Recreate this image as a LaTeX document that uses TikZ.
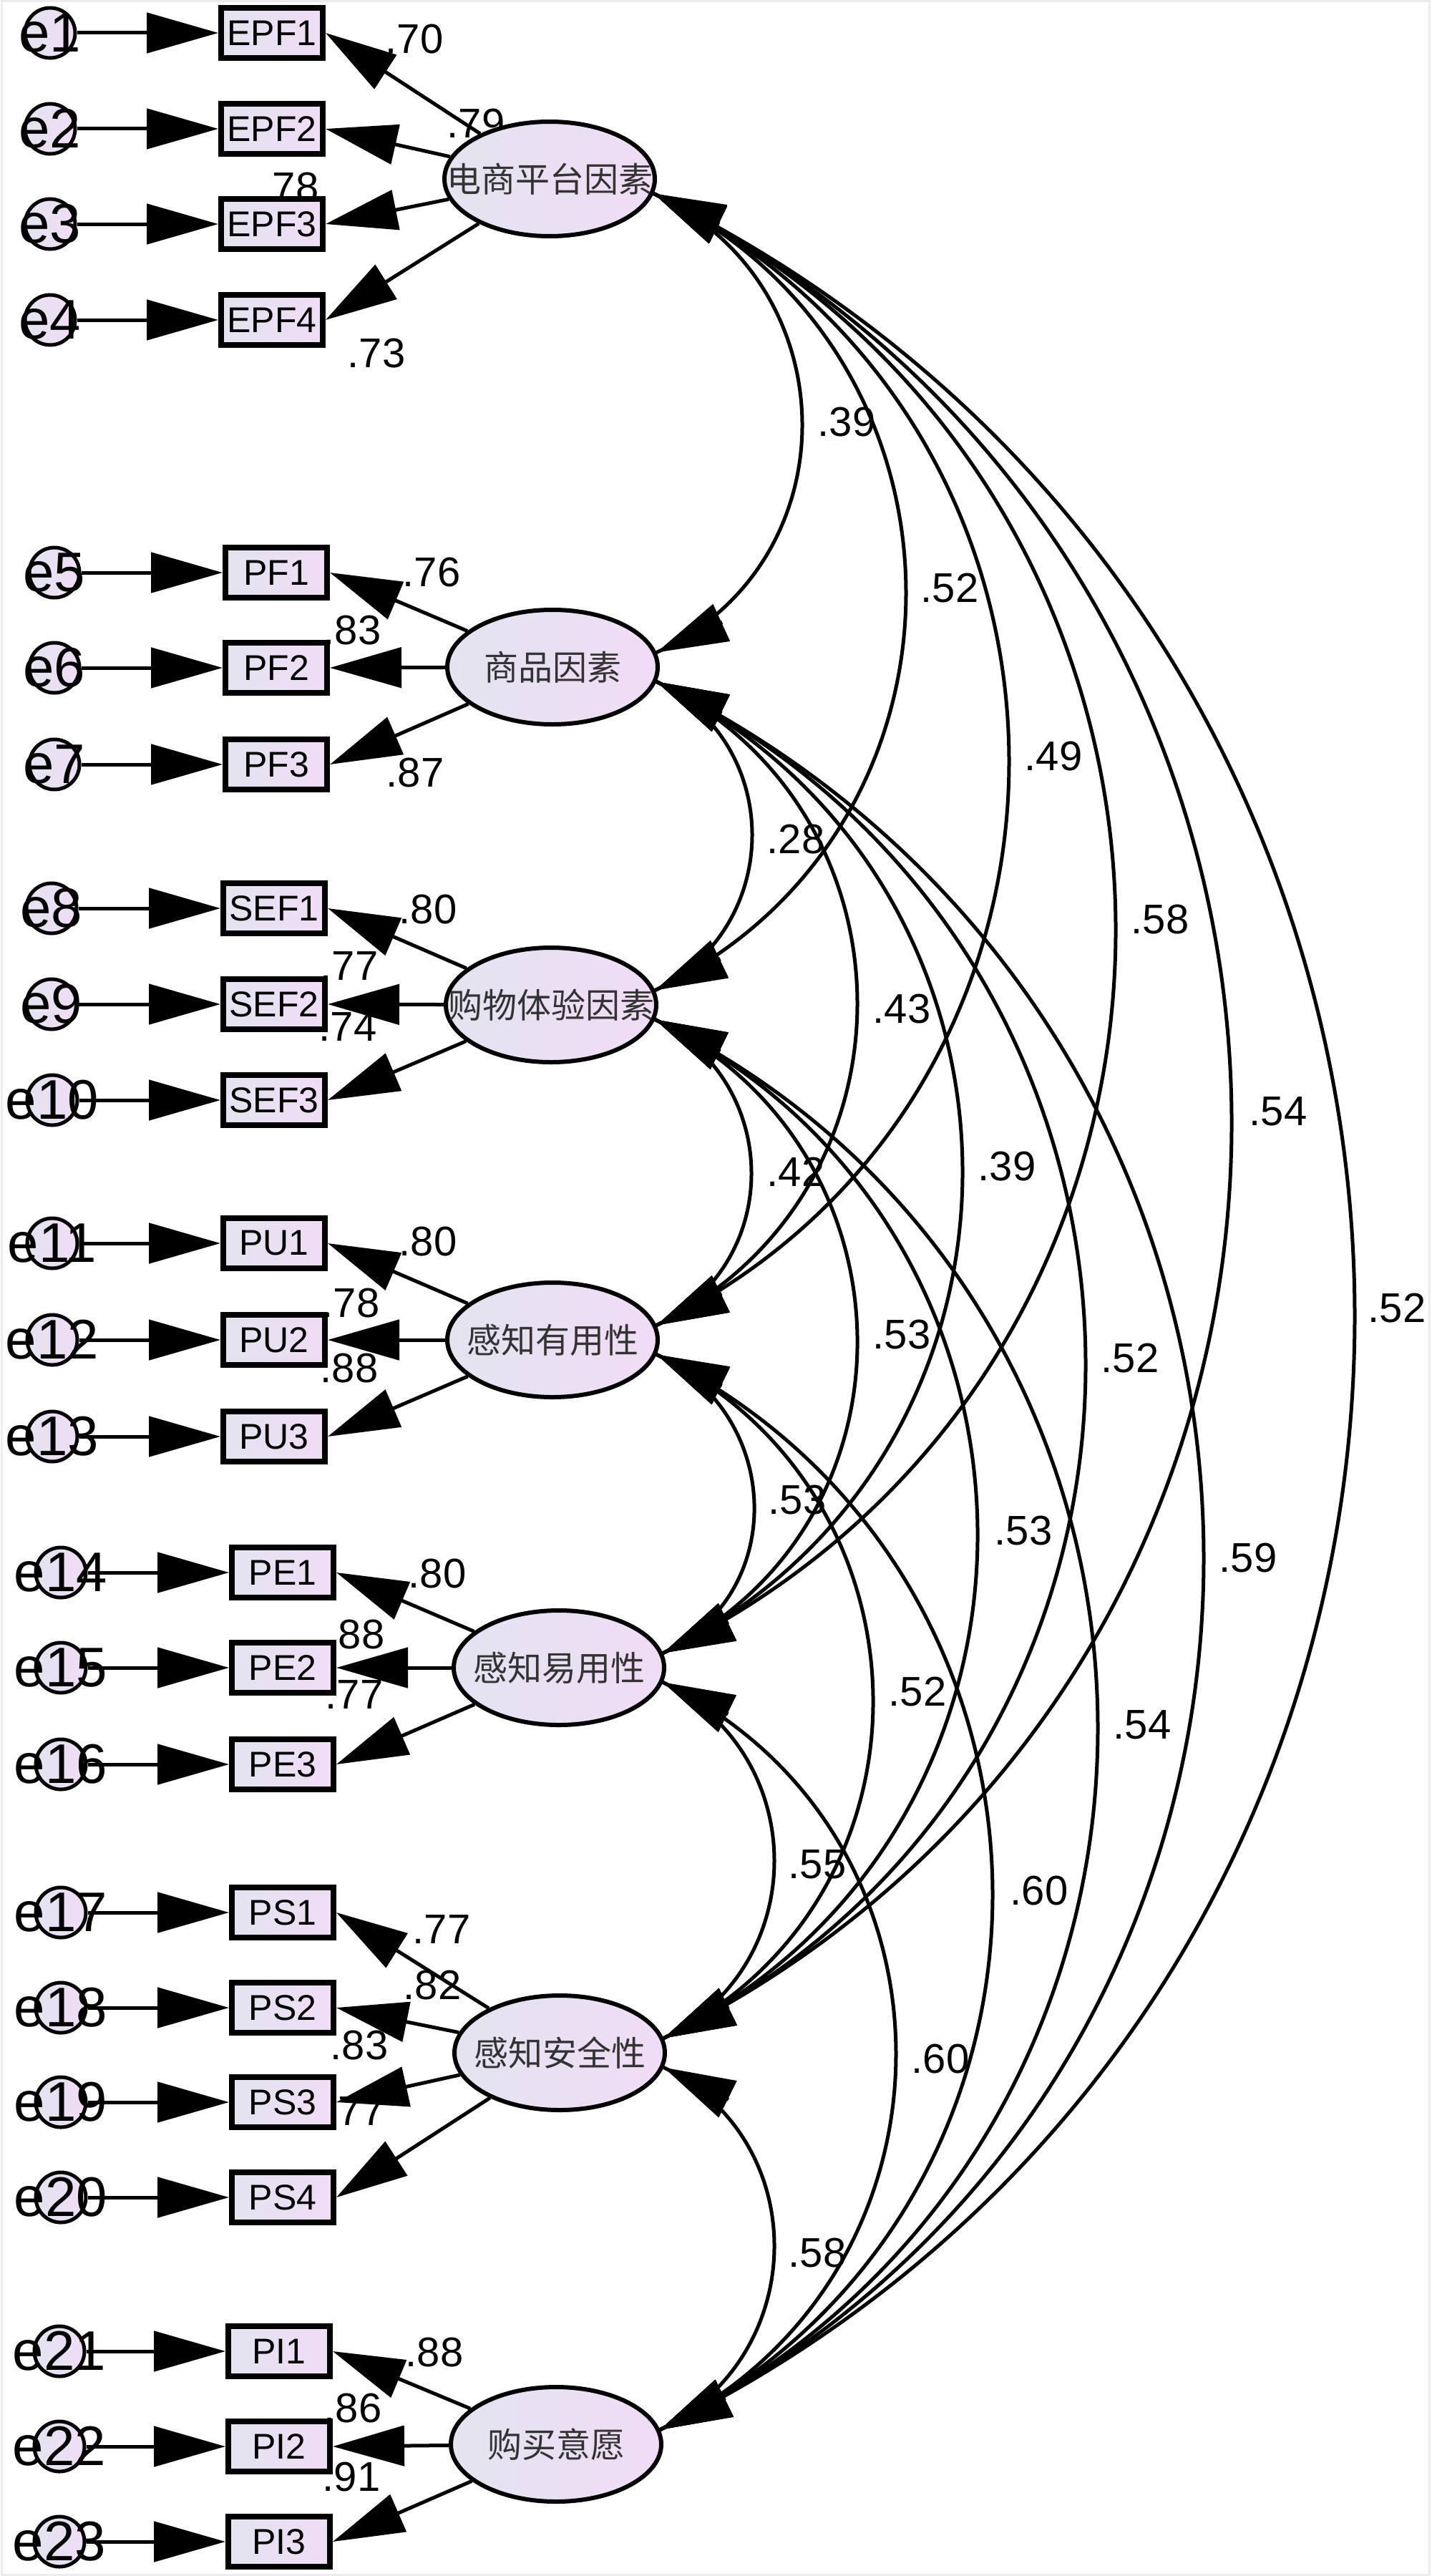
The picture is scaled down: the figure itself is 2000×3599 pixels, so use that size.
\documentclass[tikz,border=0pt]{standalone}
\usepackage{fontspec}
\setmainfont{Liberation Sans}
\newfontfamily\cjk{Noto Sans CJK SC}
\usetikzlibrary{arrows.meta,shapes.geometric,calc}
\pgfdeclarelayer{bgl}
\pgfdeclarelayer{labels}
\pgfsetlayers{bgl,labels,main}
\definecolor{boxL}{RGB}{228,228,240}
\definecolor{boxR}{RGB}{240,220,246}
\tikzset{
 ind/.style={rectangle, draw=black, line width=8pt, left color=boxL, right color=boxR, minimum width=142pt, minimum height=70pt, inner sep=0pt, font=\fontsize{50}{52}\selectfont},
 lat/.style={ellipse, draw=black, line width=6pt, left color=boxL, right color=boxR, minimum width=294pt, minimum height=160pt, inner sep=0pt},
 latt/.style={inner sep=0pt, font=\fontsize{48}{50}\selectfont\cjk, text=black!80},
 err/.style={circle, draw=black, line width=5pt, left color=boxL, right color=boxR, minimum size=70pt, inner sep=0pt},
 errt/.style={inner sep=0pt, font=\fontsize{78}{80}\selectfont},
 num/.style={inner sep=0pt, font=\fontsize{58}{60}\selectfont},
 bigtri/.tip={Triangle[length=100pt,width=56pt]},
 pth/.style={line width=5pt, -bigtri},
 covline/.style={line width=5pt},
 covtip/.style={line width=5pt, -bigtri},
}
\newcommand\covarc[3]{%
  \path let \p1=(#1.-8), \p2=(#2.8),
    \n1={(\y1-\y2)/2}, \n2={#3-(\x1+\x2)/2}, \n3={2*atan(\n2/\n1)},
    \n4={4*\n2/3}, \n5={\n4*cos(\n3)/sin(\n3)}
  in coordinate (#1#2a) at (\p1) coordinate (#1#2b) at (\p2)
     coordinate (#1#2ca) at ($(\p1)+(\n4,-\n5)$)
     coordinate (#1#2cb) at ($(\p2)+(\n4,\n5)$);
  \draw[covline] (#1#2a) .. controls (#1#2ca) and (#1#2cb) .. (#1#2b);
  \draw[covtip] ($(#1#2a)!101pt!(#1#2ca)$) -- (#1#2a);
  \draw[covtip] ($(#1#2b)!101pt!(#1#2cb)$) -- (#1#2b);}
\begin{document}
\begin{tikzpicture}[x=1pt,y=1pt]
\useasboundingbox (0,0) rectangle (2000,-3599);
\begin{pgfonlayer}{bgl}
\fill[white] (0,0) rectangle (2000,-3599);
\end{pgfonlayer}
\draw[black!8, line width=3pt] (2,-2) rectangle (1997,-3597);

% loading and covariance labels (behind the shapes)
\begin{pgfonlayer}{labels}
\node[num] (l1) at (579,-55) {.70};
\node[num] (l2) at (665,-173) {.79};
\node[num] (l3) at (405,-262) {.78};
\node[num] (l4) at (526,-494) {.73};
\node[num] (l5) at (603,-800) {.76};
\node[num] (l6) at (492,-881) {.83};
\node[num] (l7) at (580,-1080) {.87};
\node[num] (l8) at (598,-1271) {.80};
\node[num] (l9) at (488,-1350) {.77};
\node[num] (l10) at (486,-1435) {.74};
\node[num] (l11) at (598,-1735) {.80};
\node[num] (l12) at (490,-1821) {.78};
\node[num] (l13) at (488,-1912) {.88};
\node[num] (l14) at (611,-2199) {.80};
\node[num] (l15) at (497,-2284) {.88};
\node[num] (l16) at (495,-2368) {.77};
\node[num] (l17) at (617,-2696) {.77};
\node[num] (l18) at (604,-2773) {.82};
\node[num] (l19) at (502,-2857) {.83};
\node[num] (l20) at (497,-2950) {.77};
\node[num] (l21) at (607,-3286) {.88};
\node[num] (l22) at (493,-3364) {.86};
\node[num] (l23) at (491,-3460) {.91};
\node[num] (c12) at (1183,-590) {.39};
\node[num] (c13) at (1327,-822) {.52};
\node[num] (c14) at (1472,-1057) {.49};
\node[num] (c15) at (1621,-1285) {.58};
\node[num] (c16) at (1786,-1553) {.54};
\node[num] (c17) at (1952,-1828) {.52};
\node[num] (c23) at (1112,-1173) {.28};
\node[num] (c24) at (1260,-1410) {.43};
\node[num] (c25) at (1407,-1630) {.39};
\node[num] (c26) at (1579,-1898) {.52};
\node[num] (c27) at (1744,-2177) {.59};
\node[num] (c34) at (1112,-1637) {.42};
\node[num] (c35) at (1260,-1865) {.53};
\node[num] (c36) at (1430,-2139) {.53};
\node[num] (c37) at (1596,-2410) {.54};
\node[num] (c45) at (1114,-2096) {.53};
\node[num] (c46) at (1282,-2364) {.52};
\node[num] (c47) at (1452,-2642) {.60};
\node[num] (c56) at (1142,-2605) {.55};
\node[num] (c57) at (1314,-2876) {.60};
\node[num] (c67) at (1142,-3147) {.58};
\end{pgfonlayer}

% latent variables
\node[lat] (E1) at (768,-250) {};
\node[lat] (E2) at (772,-932) {};
\node[lat] (E3) at (770,-1404) {};
\node[lat] (E4) at (772,-1872) {};
\node[lat] (E5) at (781,-2330) {};
\node[lat] (E6) at (782,-2868) {};
\node[lat] (E7) at (777,-3415) {};
\node[latt] (E1t) at (E1) {电商平台因素};
\node[latt] (E2t) at (E2) {商品因素};
\node[latt] (E3t) at (E3) {购物体验因素};
\node[latt] (E4t) at (E4) {感知有用性};
\node[latt] (E5t) at (E5) {感知易用性};
\node[latt] (E6t) at (E6) {感知安全性};
\node[latt] (E7t) at (E7) {购买意愿};

% indicators
\node[ind] (EPF1) at (380,-46) {EPF1};
\node[ind] (EPF2) at (380,-180) {EPF2};
\node[ind] (EPF3) at (380,-313) {EPF3};
\node[ind] (EPF4) at (380,-447) {EPF4};
\node[ind] (PF1) at (386,-800) {PF1};
\node[ind] (PF2) at (386,-933) {PF2};
\node[ind] (PF3) at (386,-1068) {PF3};
\node[ind] (SEF1) at (383,-1269) {SEF1};
\node[ind] (SEF2) at (383,-1403) {SEF2};
\node[ind] (SEF3) at (383,-1537) {SEF3};
\node[ind] (PU1) at (383,-1737) {PU1};
\node[ind] (PU2) at (383,-1872) {PU2};
\node[ind] (PU3) at (383,-2007) {PU3};
\node[ind] (PE1) at (395,-2197) {PE1};
\node[ind] (PE2) at (395,-2330) {PE2};
\node[ind] (PE3) at (395,-2465) {PE3};
\node[ind] (PS1) at (395,-2672) {PS1};
\node[ind] (PS2) at (395,-2805) {PS2};
\node[ind] (PS3) at (395,-2937) {PS3};
\node[ind] (PS4) at (395,-3070) {PS4};
\node[ind] (PI1) at (390,-3285) {PI1};
\node[ind] (PI2) at (390,-3418) {PI2};
\node[ind] (PI3) at (390,-3551) {PI3};

% error terms
\foreach \n/\x/\t in {1/70/EPF1,2/70/EPF2,3/70/EPF3,4/70/EPF4,5/76/PF1,6/76/PF2,7/76/PF3,8/72/SEF1,9/72/SEF2,10/73/SEF3,11/73/PU1,12/73/PU2,13/73/PU3,14/85/PE1,15/85/PE2,16/85/PE3,17/85/PS1,18/85/PS2,19/85/PS3,20/85/PS4,21/83/PI1,22/83/PI2,23/83/PI3}{
  \node[err] (e\n) at (\x,0 |- \t) {};
  \draw[pth] (e\n) -- (\t);
  \node[errt] (e\n t) at (e\n) {e\n};
}

% loadings
\foreach \t in {EPF1,EPF2,EPF3,EPF4}{\draw[pth] (E1) -- (\t.east);}
\foreach \t in {PF1,PF2,PF3}{\draw[pth] (E2) -- (\t.east);}
\foreach \t in {SEF1,SEF2,SEF3}{\draw[pth] (E3) -- (\t.east);}
\foreach \t in {PU1,PU2,PU3}{\draw[pth] (E4) -- (\t.east);}
\foreach \t in {PE1,PE2,PE3}{\draw[pth] (E5) -- (\t.east);}
\foreach \t in {PS1,PS2,PS3,PS4}{\draw[pth] (E6) -- (\t.east);}
\foreach \t in {PI1,PI2,PI3}{\draw[pth] (E7) -- (\t.east);}

% covariances
\covarc{E1}{E2}{1121}
\covarc{E1}{E3}{1266}
\covarc{E1}{E4}{1410}
\covarc{E1}{E5}{1559}
\covarc{E1}{E6}{1721}
\covarc{E1}{E7}{1893}
\covarc{E2}{E3}{1051}
\covarc{E2}{E4}{1198}
\covarc{E2}{E5}{1345}
\covarc{E2}{E6}{1517}
\covarc{E2}{E7}{1682}
\covarc{E3}{E4}{1050}
\covarc{E3}{E5}{1198}
\covarc{E3}{E6}{1366}
\covarc{E3}{E7}{1534}
\covarc{E4}{E5}{1054}
\covarc{E4}{E6}{1220}
\covarc{E4}{E7}{1387}
\covarc{E5}{E6}{1082}
\covarc{E5}{E7}{1252}
\covarc{E6}{E7}{1082}
\end{tikzpicture}
\end{document}
